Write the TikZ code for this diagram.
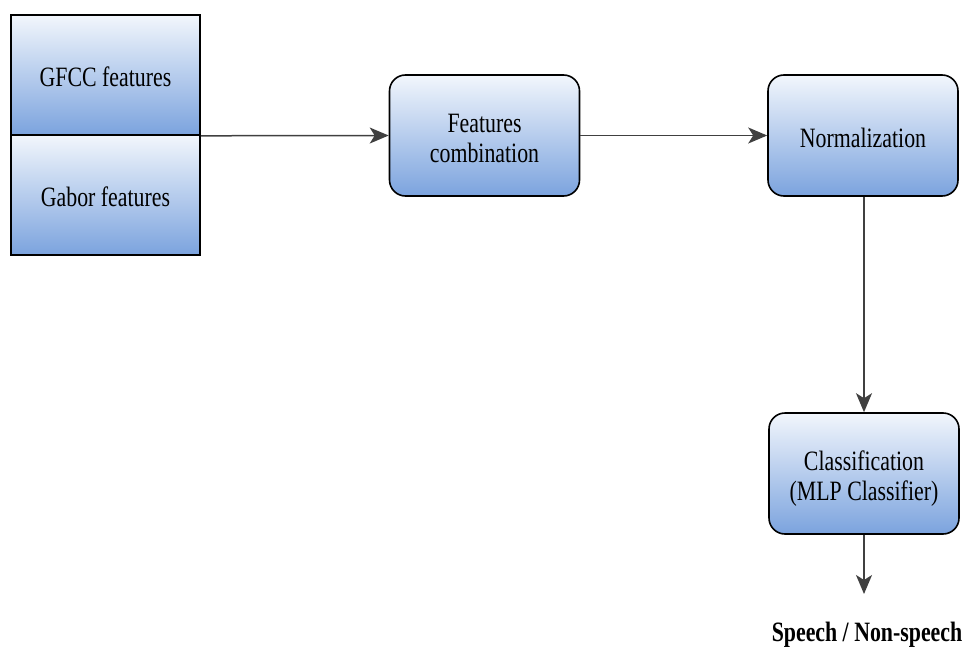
\documentclass[tikz,border=0pt]{standalone}
\usepackage{fontspec}
\setmainfont{Liberation Serif}
\usetikzlibrary{arrows.meta}
\definecolor{boxtop}{HTML}{F2F6FC}
\definecolor{boxbottom}{HTML}{7BA3DE}
\definecolor{linegray}{HTML}{404040}
% condensed multi-line text, lowered to sit on the optical centre
\newcommand{\narrowtext}[1]{\raisebox{-12pt}[0pt][0pt]{\scalebox{0.78}[1]{\begin{tabular}{@{}c@{}}#1\end{tabular}}}}
\tikzset{
  blockbase/.style={draw=black, line width=1.6pt, top color=boxtop, bottom color=boxbottom,
    align=center, inner sep=0pt, font=\fontsize{28}{30}\selectfont},
  featbox/.style={blockbase, minimum width=189pt, minimum height=120pt},
  procbox/.style={blockbase, rounded corners=16pt, minimum width=190pt, minimum height=121pt},
  flow/.style={draw=linegray, line width=1.5pt, -{Stealth[length=19pt,width=16pt,inset=5pt]}},
}
\begin{document}
\begin{tikzpicture}[x=1pt, y=-1pt]
\useasboundingbox (0,0) rectangle (965,647);
% feature extraction blocks
\node[featbox] (gfcc) at (105.5,75) {\narrowtext{GFCC features}};
\node[featbox] (gabor) at (105.5,195) {\narrowtext{Gabor features}};
% processing stages
\node[procbox] (comb) at (484.5,135.5) {\narrowtext{Features\\combination}};
\node[procbox] (norm) at (863,135.5) {\narrowtext{Normalization}};
\node[procbox] (cls) at (864,473.5) {\narrowtext{Classification\\(MLP Classifier)}};
% output label
\node[font=\bfseries\fontsize{28}{30}\selectfont, inner sep=0pt] (out) at (867,630) {\narrowtext{Speech / Non-speech}};
\coordinate (outend) at (864,594);
% connectors
\draw[flow] (gfcc.south east) -- (comb.west);
\draw[flow] (comb.east) -- (norm.west);
\draw[flow] (norm.south -| cls.north) -- (cls.north);
\draw[flow] (cls.south) -- (outend);
\end{tikzpicture}
\end{document}
